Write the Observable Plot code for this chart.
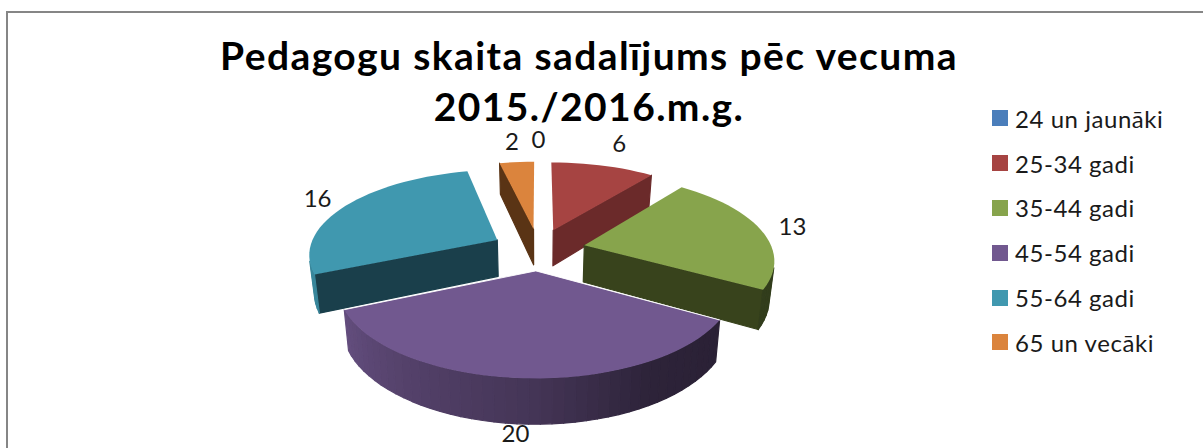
<!DOCTYPE html>
<html>
<head>
<meta charset="utf-8">
<script src="https://cdn.jsdelivr.net/npm/d3@7"></script>
<script src="https://cdn.jsdelivr.net/npm/@observablehq/plot@0.6"></script>
<style>
  html, body { margin: 0; padding: 0; background: #fff; overflow: hidden; }
  #stage { position: relative; width: 1203px; height: 448px; overflow: hidden; font-family: Lato, "Open Sans", sans-serif; color: #111; }
  #frame { position: absolute; left: 6px; top: 11px; width: 1400px; height: 700px; border: 2px solid #868686; box-sizing: border-box; }
  #chart { position: absolute; left: 0; top: 0; }
  #title { position: absolute; left: 189px; top: 30px; width: 800px; text-align: center; font-weight: 700; font-size: 39px; line-height: 51px; letter-spacing: 1.4px; color: #000; }
  #legend { position: absolute; left: 992px; top: 96px; }
  .row { display: flex; align-items: center; height: 44.8px; font-size: 24px; letter-spacing: 0.55px; color: #1a1a1a; white-space: nowrap; }
  .sw { width: 16px; height: 16px; margin-right: 7px; flex: none; }
</style>
</head>
<body>
<div id="stage">
  <div id="frame"></div>
  <div id="chart"></div>
  <div id="title">Pedagogu skaita sadalījums pēc vecuma<br>2015./2016.m.g.</div>
  <div id="legend"></div>
</div>
<script>
const categories = ["24 un jaunāki", "25-34 gadi", "35-44 gadi", "45-54 gadi", "55-64 gadi", "65 un vecāki"];
const values = [0, 6, 13, 20, 16, 2];
const topColors = ["#4A7EBB", "#A64442", "#87A44C", "#71588F", "#4098AF", "#DB843D"];
const wallColors = ["#2A4665", "#6B2A2A", "#38431C", "#2A2039", "#1A3F4B", "#5A3415"];
const labelReach = [1.63, 1.64, 1.435, 1.655, 1.45, 1.6];
const drawOrder = [5, 1, 4, 2, 3];

// Perspective model of the exploded 3-D pie
const cx = 538, cy = 248.7, R = 188, K = 83.5, P = 0.154, explode = 0.25, depth = 37, squeeze = 0.978;
const rad = d => d * Math.PI / 180;
const project = (u, v) => {
  const s = 1 / (1 + P * v);
  return {x: cx + R * u * s, y: cy - K * v * s, s};
};
const lower = p => ({x: cx + (p.x - cx) * squeeze, y: p.y + depth * p.s});
const shadeAt = d3.scaleLinear().domain([120, 150, 180, 210, 246, 270]).range([0.37, 0.4, 0.6, 0.72, 0.88, 0.9]).clamp(true);

const total = d3.sum(values);
let running = 0;
const slices = values.map((value, i) => {
  const a0 = running / total * 360;
  running += value;
  const a1 = running / total * 360;
  const mid = rad((a0 + a1) / 2);
  return {i, value, a0, a1, mid, ox: explode * Math.sin(mid), oy: explode * Math.cos(mid)};
});

const layers = [];
const edgeLines = [];
let faceId = 0;
const addFace = (list, pts, color) => {
  const id = faceId++;
  [...pts, pts[0]].forEach(p => list.push({id, x: p.x, y: p.y, color}));
};
const shoelace = pts => d3.sum(pts, (p, k) => {
  const q = pts[(k + 1) % pts.length];
  return p.x * q.y - q.x * p.y;
});

for (const idx of drawOrder) {
  const sl = slices[idx];
  const apex = project(sl.ox, sl.oy);
  const rim = [];
  const steps = Math.max(2, Math.ceil((sl.a1 - sl.a0) / 3));
  for (let k = 0; k <= steps; k++) {
    const a = sl.a0 + (sl.a1 - sl.a0) * k / steps;
    rim.push({a, ...project(sl.ox + Math.sin(rad(a)), sl.oy + Math.cos(rad(a)))});
  }
  const sideQuad = (p, q) => [p, q, lower(q), lower(p)];
  const sides = [];
  const tops = [];
  [[apex, rim[0]], [rim[steps], apex]].forEach(([p, q]) => {
    const quad = sideQuad(p, q);
    if (shoelace(quad) < -1000) addFace(sides, quad, wallColors[idx]);
  });
  for (let k = 0; k < steps; k++) {
    const quad = sideQuad(rim[k], rim[k + 1]);
    if (shoelace(quad) < 0) {
      const c = d3.rgb(topColors[idx]);
      const f = shadeAt((rim[k].a + rim[k + 1].a) / 2);
      addFace(sides, quad, d3.rgb(c.r * f, c.g * f, c.b * f).formatHex());
    }
  }
  addFace(tops, [apex, ...rim], topColors[idx]);
  layers.push(sides, tops);
  if (idx === 3) {
    [rim[0], apex, rim[steps]].forEach(p => edgeLines.push({x: p.x, y: p.y}));
  }
}

const labels = slices.map(sl => {
  const p = project(labelReach[sl.i] * Math.sin(sl.mid), labelReach[sl.i] * Math.cos(sl.mid));
  return {x: p.x, y: p.y, text: String(sl.value)};
});

const chart = Plot.plot({
  width: 1203,
  height: 448,
  margin: 0,
  x: {domain: [0, 1203], range: [0, 1203], axis: null},
  y: {domain: [0, 448], range: [0, 448], axis: null},
  color: {type: "identity"},
  style: {background: "transparent"},
  marks: [
    layers.map((rows, n) => Plot.line(rows, {
      x: "x", y: "y", z: "id", fill: "color",
      stroke: n % 2 ? "none" : "color", strokeWidth: 1.2
    })),
    Plot.line(edgeLines, {x: "x", y: "y", stroke: "#fff", strokeWidth: 1, strokeOpacity: 0.9}),
    Plot.text(labels, {x: "x", y: "y", text: "text", fontSize: 24, fontFamily: "Lato, 'Open Sans', sans-serif", fill: "#1a1a1a"})
  ]
});
document.getElementById("chart").appendChild(chart);

const legend = document.getElementById("legend");
categories.forEach((name, i) => {
  const row = document.createElement("div");
  row.className = "row";
  const sw = document.createElement("span");
  sw.className = "sw";
  sw.style.background = topColors[i];
  const tx = document.createElement("span");
  tx.textContent = name;
  row.append(sw, tx);
  legend.appendChild(row);
});
</script>
</body>
</html>
